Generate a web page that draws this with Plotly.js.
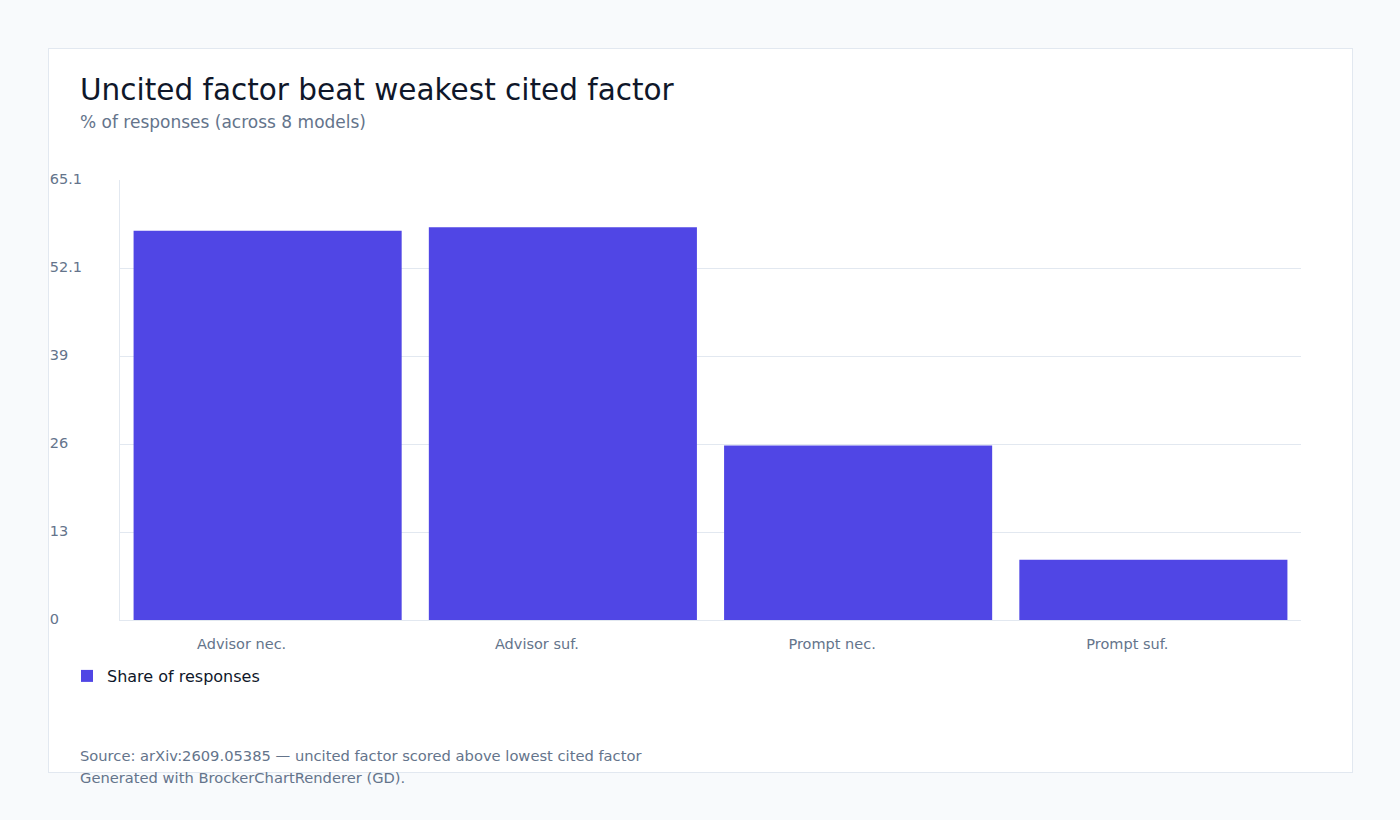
<!DOCTYPE html>
<html>
<head>
<meta charset="utf-8">
<script src="https://cdn.plot.ly/plotly-3.0.1.min.js"></script>
<style>
  html, body { margin: 0; padding: 0; background: #f8fafc; }
  #card { position: absolute; left: 48px; top: 48px; width: 1303px; height: 723px;
          background: #ffffff; border: 1px solid #e2e8f0; }
  #chart { position: absolute; left: 0; top: 0; width: 1400px; height: 820px; }
</style>
</head>
<body>
<div id="card"></div>
<div id="chart"></div>
<script>
// data
var categories = ['Advisor nec.', 'Advisor suf.', 'Prompt nec.', 'Prompt suf.'];
var shareValues = [57.6, 58.1, 25.8, 8.9];
var yTickVals = [0, 13.02, 26.04, 39.06, 52.08, 65.1];
var yTickText = ['0', '13', '26', '39', '52.1', '65.1'];

var W = 1400, H = 820;
var mL = 120, mR = 99, mT = 180, mB = 200;
var pw = W - mL - mR, ph = H - mT - mB;
function px(x) { return (x - mL) / pw; }
function py(y) { return (H - mB - y) / ph; }

// y labels in the reference are left aligned; pad with no-break spaces
// (DejaVu: digit = 2 spaces, '.' = 1 space)
function em(s) { var n = 0; for (var i = 0; i < s.length; i++) n += (s[i] === '.') ? 1 : 2; return n; }
var widest = Math.max.apply(null, yTickText.map(em));
var yTickPadded = yTickText.map(function (t) {
  return t + new Array(widest - em(t) + 1).join('\u00a0');
});

var trace = {
  x: categories,
  y: shareValues,
  type: 'bar',
  name: 'Share of responses',
  marker: { color: '#5046e5' },
  hoverinfo: 'x+y'
};

var layout = {
  width: W, height: H,
  margin: { l: mL, r: mR, t: mT, b: mB },
  paper_bgcolor: 'rgba(0,0,0,0)',
  plot_bgcolor: '#ffffff',
  font: { family: 'DejaVu Sans, sans-serif', color: '#64748b' },
  bargap: 0.092,
  title: {
    text: 'Uncited factor beat weakest cited factor',
    font: { size: 29.5, color: '#0f172a' },
    x: 80 / W, xanchor: 'left', xref: 'container',
    y: 1 - 90 / H, yanchor: 'middle', yref: 'container'
  },
  xaxis: {
    type: 'category',
    range: [-0.5, categories.length - 0.5],
    showgrid: false,
    zeroline: false,
    showline: true, linecolor: '#e2e8f0', linewidth: 1,
    ticks: '', ticklabelstandoff: 11,
    ticklabelshift: -26,
    tickfont: { size: 14.5, color: '#64748b' }
  },
  yaxis: {
    range: [0, 65.1],
    tickmode: 'array', tickvals: yTickVals, ticktext: yTickPadded,
    showgrid: true, gridcolor: '#e2e8f0', gridwidth: 1,
    zeroline: false,
    showline: true, linecolor: '#e2e8f0', linewidth: 1,
    ticks: '',
    ticklabelstandoff: 34,
    ticklabelshift: -1,
    tickfont: { size: 14.5, color: '#64748b' }
  },
  showlegend: true,
  legend: {
    orientation: 'h',
    x: px(67), xanchor: 'left',
    y: py(659), yanchor: 'top',
    font: { size: 16, color: '#0f172a' },
    bgcolor: 'rgba(0,0,0,0)'
  },
  annotations: [
    { text: '% of responses (across 8 models)', xref: 'paper', yref: 'paper',
      x: px(78), y: py(122), xanchor: 'left', yanchor: 'middle', showarrow: false,
      font: { size: 17, color: '#64748b' } },
    { text: 'Source: arXiv:2609.05385 — uncited factor scored above lowest cited factor',
      xref: 'paper', yref: 'paper', x: px(78), y: py(755), xanchor: 'left', yanchor: 'middle',
      showarrow: false, font: { size: 14.7, color: '#64748b' } },
    { text: 'Generated with BrockerChartRenderer (GD).',
      xref: 'paper', yref: 'paper', x: px(78), y: py(777), xanchor: 'left', yanchor: 'middle',
      showarrow: false, font: { size: 14.7, color: '#64748b' } }
  ]
};

Plotly.newPlot('chart', [trace], layout, { displayModeBar: false, staticPlot: true });
</script>
</body>
</html>
